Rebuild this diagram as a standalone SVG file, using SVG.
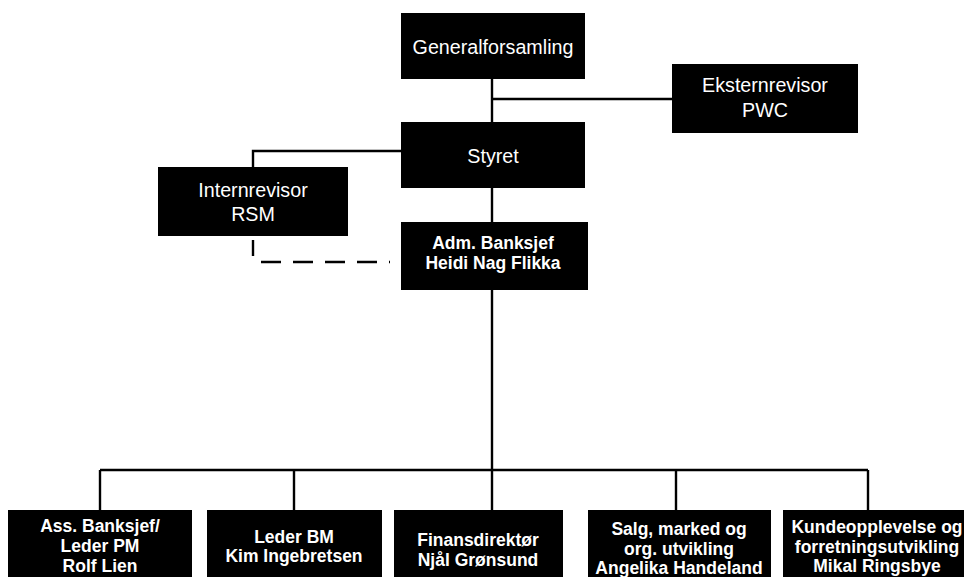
<svg xmlns="http://www.w3.org/2000/svg" width="964" height="577" viewBox="0 0 964 577">
<style>
.box{fill:#000}
.t{fill:#fff;font-family:"Liberation Sans",Arial,sans-serif;font-size:19.7px;text-anchor:middle}
.b{fill:#fff;font-family:"Liberation Sans",Arial,sans-serif;font-size:17.5px;font-weight:bold;text-anchor:middle}
.ln{stroke:#000;stroke-width:2.4;fill:none}
.dash{stroke:#000;stroke-width:2.4;fill:none;stroke-dasharray:20 12}
</style>
<rect width="964" height="577" fill="#fff"/>
<g id="connectors">
<line class="ln" x1="492" y1="79" x2="492" y2="122"/>
<line class="ln" x1="492" y1="99" x2="673" y2="99"/>
<polyline class="ln" points="401,151 253,151 253,167"/>
<line class="ln" x1="492" y1="188" x2="492" y2="222"/>
<line class="ln" x1="253" y1="240" x2="253" y2="256"/>
<line class="dash" x1="261" y1="262" x2="390" y2="262"/>
<line class="ln" x1="492" y1="290" x2="492" y2="510"/>
<line class="ln" x1="100" y1="470" x2="868" y2="470"/>
<line class="ln" x1="100" y1="470" x2="100" y2="510"/>
<line class="ln" x1="294" y1="470" x2="294" y2="510"/>
<line class="ln" x1="676" y1="470" x2="676" y2="510"/>
<line class="ln" x1="868" y1="470" x2="868" y2="510"/>
</g>
<g id="generalforsamling">
<rect class="box" x="401" y="13" width="184" height="66"/>
<text class="t" x="493" y="54">Generalforsamling</text>
</g>
<g id="eksternrevisor">
<rect class="box" x="672" y="64" width="186" height="69"/>
<text class="t" x="765" y="92">Eksternrevisor</text>
<text class="t" x="765" y="117">PWC</text>
</g>
<g id="styret">
<rect class="box" x="401" y="122" width="184" height="66"/>
<text class="t" x="493" y="163">Styret</text>
</g>
<g id="internrevisor">
<rect class="box" x="158" y="167" width="190" height="69"/>
<text class="t" x="253" y="197">Internrevisor</text>
<text class="t" x="253" y="221">RSM</text>
</g>
<g id="adm">
<rect class="box" x="401" y="222" width="187" height="68"/>
<text class="b" x="493" y="249">Adm. Banksjef</text>
<text class="b" x="493" y="269">Heidi Nag Flikka</text>
</g>
<g id="ass">
<rect class="box" x="8" y="510" width="184" height="67"/>
<text class="b" x="100" y="532">Ass. Banksjef/</text>
<text class="b" x="100" y="552">Leder PM</text>
<text class="b" x="100" y="572">Rolf Lien</text>
</g>
<g id="leder-bm">
<rect class="box" x="207" y="510" width="175" height="67"/>
<text class="b" x="294" y="543">Leder BM</text>
<text class="b" x="294" y="562">Kim Ingebretsen</text>
</g>
<g id="finans">
<rect class="box" x="394" y="510" width="169" height="67"/>
<text class="b" x="478" y="546">Finansdirektør</text>
<text class="b" x="478" y="566">Njål Grønsund</text>
</g>
<g id="salg">
<rect class="box" x="588" y="510" width="183" height="67"/>
<text class="b" x="679" y="535">Salg, marked og</text>
<text class="b" x="679" y="555">org. utvikling</text>
<text class="b" x="679" y="574">Angelika Handeland</text>
</g>
<g id="kunde">
<rect class="box" x="783" y="510" width="181" height="67"/>
<text class="b" x="877" y="533">Kundeopplevelse og</text>
<text class="b" x="877" y="553">forretningsutvikling</text>
<text class="b" x="877" y="572">Mikal Ringsbye</text>
</g>
</svg>
